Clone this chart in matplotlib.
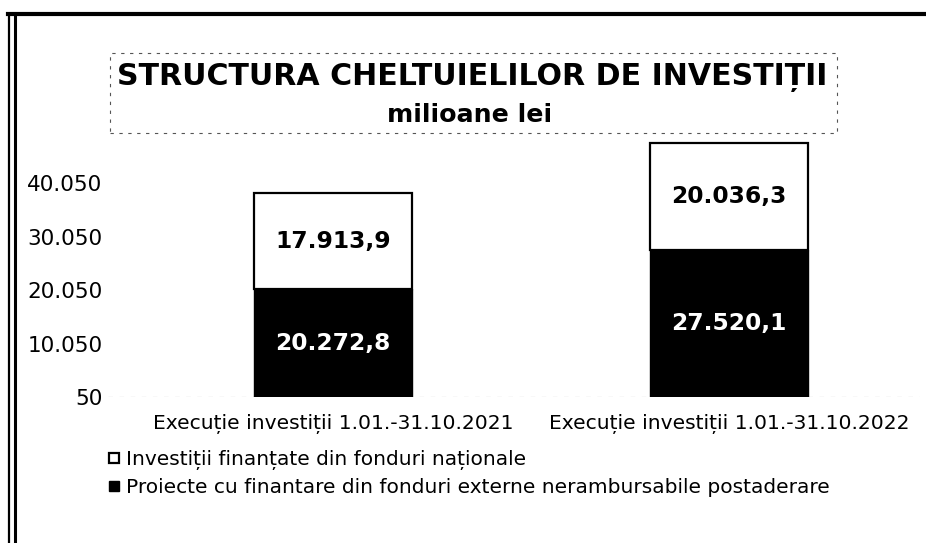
import matplotlib
matplotlib.use("Agg")
import matplotlib.pyplot as plt
from matplotlib.lines import Line2D
from matplotlib.patches import Rectangle

# Date (milioane lei)
categorii = ["Execuție investiții 1.01.-31.10.2021", "Execuție investiții 1.01.-31.10.2022"]
fonduri_externe = [20272.8, 27520.1]
fonduri_nationale = [17913.9, 20036.3]
etichete_externe = ["20.272,8", "27.520,1"]
etichete_nationale = ["17.913,9", "20.036,3"]
serii = ["Investiții finanțate din fonduri naționale",
         "Proiecte cu finantare din fonduri externe nerambursabile postaderare"]
valori_axa = [50, 10050, 20050, 30050, 40050]
etichete_axa = ["50", "10.050", "20.050", "30.050", "40.050"]

W, H = 926, 543

def fx(px):
    return px / W

def fy(py):
    return 1 - py / H

plt.rcParams['font.family'] = ['DejaVu Sans']

fig = plt.figure(figsize=(W / 100, H / 100), dpi=100)
fig.patch.set_facecolor("white")

# Zona graficului
ax = fig.add_axes([fx(108), fy(397), fx(920) - fx(108), fy(140) - fy(397)])
x = list(range(len(categorii)))
ax.bar(x, fonduri_externe, width=0.4, color="black", edgecolor="black", linewidth=1)
ax.bar(x, fonduri_nationale, width=0.4, bottom=fonduri_externe,
       color="white", edgecolor="black", linewidth=1.6)

for i in x:
    ax.text(i, fonduri_externe[i] / 2, etichete_externe[i], ha="center", va="center",
            color="white", fontsize=16.8, fontweight="bold")
    ax.text(i, fonduri_externe[i] + fonduri_nationale[i] / 2, etichete_nationale[i],
            ha="center", va="center", color="black", fontsize=16.8, fontweight="bold")

ax.set_xlim(-0.568, 1.482)
ax.set_ylim(50, 48195)
ax.set_yticks(valori_axa)
ax.set_yticklabels(etichete_axa, fontsize=15.5)
ax.set_xticks(x)
ax.set_xticklabels(categorii, fontsize=14.6)
ax.tick_params(axis="both", length=0)
ax.tick_params(axis="y", pad=4)
ax.tick_params(axis="x", pad=12)
for s in ax.spines.values():
    s.set_visible(False)
ax.axhline(50, color="#888888", lw=0.8, ls=(0, (4, 6)), zorder=0)

# Legenda
handles = [
    Line2D([], [], ls="none", marker="s", markersize=6.5, markerfacecolor="white",
           markeredgecolor="black", markeredgewidth=1.6),
    Line2D([], [], ls="none", marker="s", markersize=7, markerfacecolor="black",
           markeredgecolor="black"),
]
fig.legend(handles, serii, loc="upper left", bbox_to_anchor=(fx(108), fy(450)),
           frameon=False, fontsize=14.5, handlelength=0.6, handletextpad=0.3,
           labelspacing=0.38, borderaxespad=0, borderpad=0)

# Titlu
fig.text(fx(472), fy(77), "STRUCTURA CHELTUIELILOR DE INVESTIȚII", ha="center", va="center",
         fontsize=21.6, fontweight="bold")
fig.text(fx(470), fy(115), "milioane lei", ha="center", va="center",
         fontsize=18.2, fontweight="bold")
fig.add_artist(Rectangle((fx(110), fy(133)), fx(837) - fx(110), fy(53) - fy(133),
                         transform=fig.transFigure, fill=False, edgecolor="#555555",
                         lw=0.8, ls=(0, (3, 5))))

# Chenarul paginii scanate
fig.add_artist(Line2D([fx(8), fx(926)], [fy(14), fy(14)], transform=fig.transFigure,
                      color="black", lw=3))
fig.add_artist(Line2D([fx(9), fx(9)], [fy(14), fy(543)], transform=fig.transFigure,
                      color="black", lw=1.6))
fig.add_artist(Line2D([fx(15), fx(15)], [fy(16), fy(543)], transform=fig.transFigure,
                      color="black", lw=2.2))

fig.savefig("out.png", dpi=100)
